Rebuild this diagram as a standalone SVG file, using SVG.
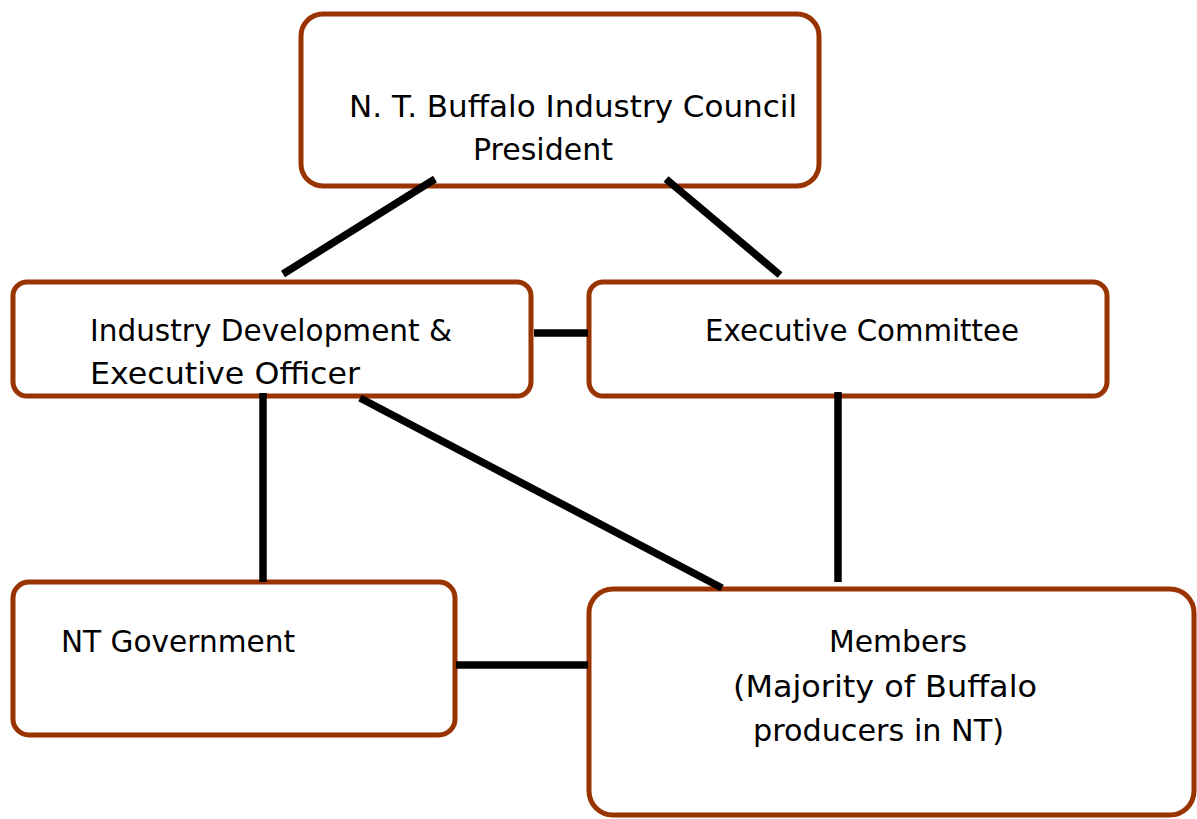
<svg xmlns="http://www.w3.org/2000/svg" width="1197" height="819" viewBox="0 0 1197 819">
  <style>
    .box { fill: #ffffff; stroke: #993300; stroke-width: 5; }
    .link { stroke: #000000; stroke-width: 7.5; fill: none; }
    .label { font-family: "Comic Sans MS", "DejaVu Sans", sans-serif; font-size: 31px; fill: #000000; }
  </style>
  <rect width="1197" height="819" fill="#ffffff"/>

  <g id="council-president">
    <rect class="box" x="301" y="14" width="518" height="172" rx="22"/>
    <text class="label" x="349" y="117" textLength="448" lengthAdjust="spacingAndGlyphs">N. T. Buffalo Industry Council</text>
    <text class="label" x="473" y="160" textLength="140" lengthAdjust="spacingAndGlyphs">President</text>
  </g>

  <g id="industry-development-officer">
    <rect class="box" x="13" y="282" width="518" height="114" rx="14"/>
    <text class="label" x="90" y="341" textLength="362" lengthAdjust="spacingAndGlyphs">Industry Development &amp;</text>
    <text class="label" x="90" y="384" textLength="270" lengthAdjust="spacingAndGlyphs">Executive Officer</text>
  </g>

  <g id="executive-committee">
    <rect class="box" x="589" y="282" width="518" height="114" rx="14"/>
    <text class="label" x="705" y="341" textLength="314" lengthAdjust="spacingAndGlyphs">Executive Committee</text>
  </g>

  <g id="nt-government">
    <rect class="box" x="13" y="582" width="442" height="153" rx="16"/>
    <text class="label" x="61" y="652" textLength="234" lengthAdjust="spacingAndGlyphs">NT Government</text>
  </g>

  <g id="members">
    <rect class="box" x="589" y="589" width="605" height="226" rx="24"/>
    <text class="label" x="829" y="652" textLength="138" lengthAdjust="spacingAndGlyphs">Members</text>
    <text class="label" x="733" y="697" textLength="304" lengthAdjust="spacingAndGlyphs">(Majority of Buffalo</text>
    <text class="label" x="753" y="741" textLength="251" lengthAdjust="spacingAndGlyphs">producers in NT)</text>
  </g>

  <!-- connectors sit on top of the box outlines -->
  <g id="connectors">
    <line class="link" x1="435" y1="179" x2="283" y2="274"/>
    <line class="link" x1="666" y1="179" x2="780" y2="275"/>
    <line class="link" x1="534" y1="333" x2="588" y2="333"/>
    <line class="link" x1="263" y1="393" x2="263" y2="582"/>
    <line class="link" x1="360" y1="398" x2="722" y2="588"/>
    <line class="link" x1="838" y1="392" x2="838" y2="582"/>
    <line class="link" x1="456" y1="665" x2="588" y2="665"/>
  </g>
</svg>
